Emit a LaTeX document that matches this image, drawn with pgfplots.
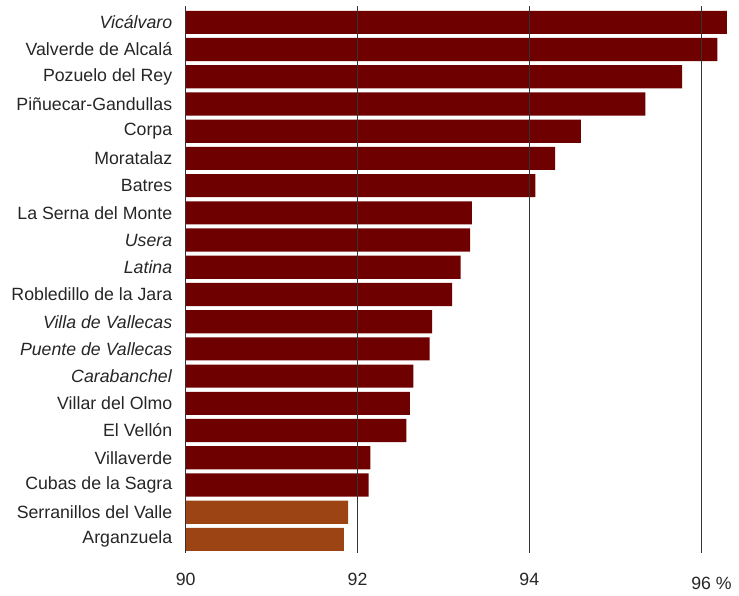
\documentclass[border=0pt]{standalone}
\usepackage{fontspec}
\setmainfont{Liberation Sans}
\usepackage{pgfplots}
\pgfplotsset{compat=1.18}
\definecolor{barred}{HTML}{6E0000}
\definecolor{barorange}{HTML}{9C4414}
\begin{document}
\begin{tikzpicture}
% page frame, same proportions as the reference
\path (-185.7bp,-43bp) rectangle (553.3bp,553bp);
\begin{axis}[
    at={(0,0)}, anchor=south west,
    scale only axis,
    width=549.8bp, height=547bp,
    xmin=90, xmax=96.4,
    ymin=-0.6, ymax=19.5,
    y dir=reverse,
    xbar, bar width=0.85, bar shift=0pt,
    axis on top,
    axis line style={draw=none},
    xtick={90,92,94,96},
    xticklabels={90,92,94,{\raisebox{-4bp}[\height]{96\rlap{\ \%}}}},
    xmajorgrids,
    major grid style={line width=1bp, color=black!80},
    ytick={0,...,19},
    yticklabels={\textit{Vicálvaro}, Valverde de Alcalá, Pozuelo del Rey,
        Piñuecar-Gandullas, Corpa, Moratalaz, Batres, La Serna del Monte,
        \textit{Usera}, \textit{Latina}, Robledillo de la Jara,
        \textit{Villa de Vallecas}, \textit{Puente de Vallecas},
        \textit{Carabanchel}, Villar del Olmo, El Vellón, Villaverde,
        Cubas de la Sagra, Serranillos del Valle, Arganzuela},
    major tick length=0pt,
    tick label style={font=\fontsize{17.8}{21}\selectfont, color=black!85},
    xticklabel style={yshift=-17bp},
    yticklabel style={xshift=-10bp},
]
\addplot[fill=barred, draw=none] coordinates {
    (96.30,0) (96.19,1) (95.78,2) (95.35,3) (94.60,4) (94.30,5)
    (94.07,6) (93.33,7) (93.31,8) (93.20,9) (93.10,10) (92.87,11)
    (92.84,12) (92.65,13) (92.61,14) (92.57,15) (92.15,16) (92.13,17)};
\addplot[fill=barorange, draw=none] coordinates {
    (91.89,18) (91.84,19)};
\end{axis}
\end{tikzpicture}
\end{document}
